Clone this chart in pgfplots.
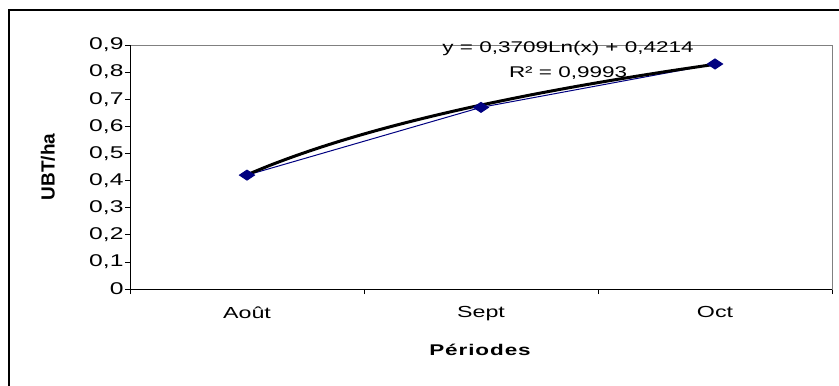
\documentclass[border=0pt]{standalone}
\usepackage{fontspec}
\setmainfont{Liberation Sans}
\newfontfamily\wide{Liberation Sans}[FakeStretch=1.45]
\newfontfamily\widebold{Liberation Sans Bold}[FakeStretch=1.45, LetterSpace=6]
\usepackage{pgfplots}
\pgfplotsset{compat=1.18}
\definecolor{navy}{RGB}{0,0,128}
\definecolor{framegray}{RGB}{128,128,128}
\begin{document}
\begin{tikzpicture}[x=1bp,y=1bp]
\path[use as bounding box] (0,0) rectangle (839,-385);
\draw[line width=2bp] (9,-386) -- (9,-10) -- (840,-10);
\begin{axis}[
  at={(130bp,-289bp)}, anchor=south west,
  scale only axis, width=702bp, height=244bp,
  xmin=-0.5, xmax=2.5, ymin=0, ymax=0.9,
  xtick={0,1,2}, xticklabels={Août,Sept,Oct},
  minor xtick={-0.5,0.5,1.5,2.5},
  major x tick style={draw=none},
  ytick={0,0.1,0.2,0.3,0.4,0.5,0.6,0.7,0.8,0.9},
  tick align=outside, xtick pos=bottom, ytick pos=left,
  major tick length=5bp, minor tick length=5bp,
  tick style={black, line width=0.8bp},
  axis line style={draw=framegray, line width=0.8bp},
  /pgf/number format/assume math mode=true,
  /pgf/number format/use comma,
  /pgf/number format/fixed,
  /pgf/number format/precision=1,
  yticklabel style={font=\wide\fontsize{17bp}{20bp}\selectfont, xshift=2bp},
  xticklabel style={font=\wide\fontsize{16bp}{19bp}\selectfont, yshift=-9bp},
  clip=false,
]
\addplot[navy, line width=1bp, mark=diamond*, mark size=5bp, mark options={xscale=2, fill=navy, draw=navy}]
  coordinates {(0,0.42) (1,0.67) (2,0.83)};
\addplot[black, line width=3bp, smooth]
  coordinates {(0,0.4214) (0.1,0.4568) (0.2,0.4890) (0.3,0.5187) (0.4,0.5462) (0.5,0.5718) (0.6,0.5957) (0.7,0.6182) (0.8,0.6394) (0.9,0.6595) (1,0.6785) (1.2,0.7138) (1.4,0.7461) (1.6,0.7758) (1.8,0.8033) (2,0.8289)};
\draw[black, line width=0.8bp] (rel axis cs:0,1) -- (rel axis cs:0,0) -- (rel axis cs:1,0);
\node[font=\wide\fontsize{15.5bp}{18bp}\selectfont] at (axis description cs:0.624,0.984) {y = 0,3709Ln(x) + 0,4214};
\node[font=\wide\fontsize{15.5bp}{18bp}\selectfont] at (axis description cs:0.624,0.885) {R² = 0,9993};
\node[font=\bfseries\fontsize{19bp}{22bp}\selectfont, rotate=90] at (axis description cs:-0.117,0.5) {UBT/ha};
\node[font=\widebold\fontsize{15.5bp}{18bp}\selectfont] at (axis description cs:0.4986,-0.25) {Périodes};
\end{axis}
\end{tikzpicture}
\end{document}
